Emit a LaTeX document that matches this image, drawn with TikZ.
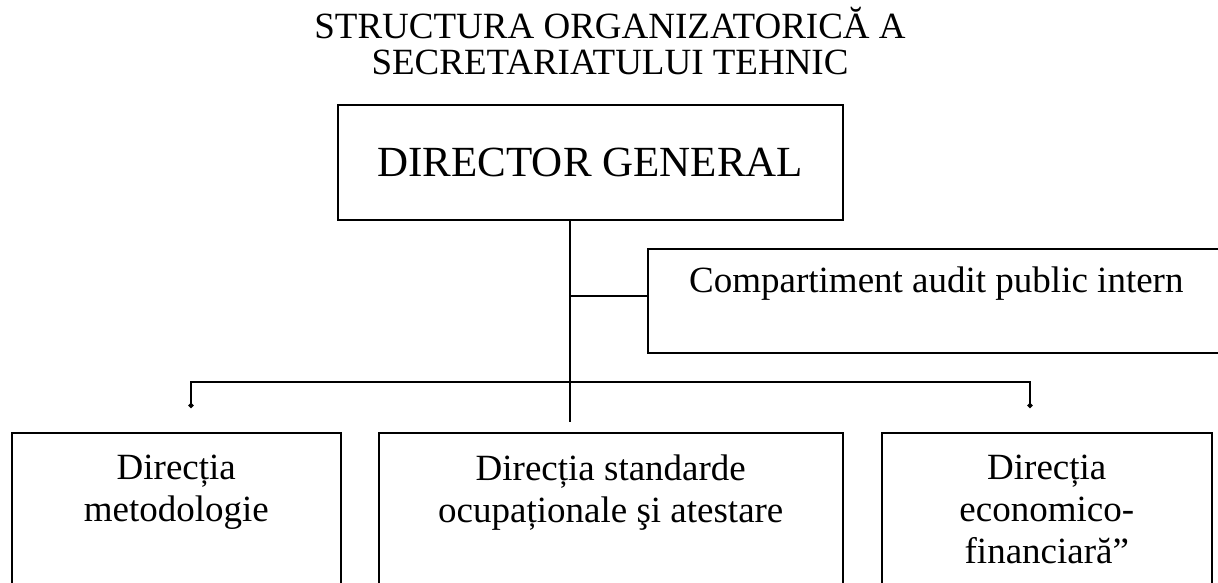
\documentclass[tikz,border=0pt]{standalone}
\usepackage{fontspec}
\setmainfont{Liberation Serif}
\usetikzlibrary{positioning,arrows.meta}

\tikzset{
  unitbox/.style={draw, line width=1.6pt, anchor=north west, inner sep=0pt},
  unittext/.style={anchor=north, align=center, inner sep=0pt,
                   font=\fontsize{37}{42}\selectfont},
  link/.style={line width=1.6pt},
  tickend/.style={link, {Circle[length=5pt]}-{Circle[length=5pt]}}
}

\begin{document}
\begin{tikzpicture}[x=1pt, y=-1pt]
  \useasboundingbox (0,0) rectangle (1218,582);
  \clip (0,0) rectangle (1218,582);

  \node[unittext, font=\fontsize{37}{36}\selectfont] (title) at (610,7)
        {STRUCTURA ORGANIZATORICĂ A\\SECRETARIATULUI TEHNIC};

  % director
  \node[unitbox, minimum width=505pt, minimum height=115pt,
        font=\fontsize{43}{43}\selectfont] (dir) at (337,104) {DIRECTOR GENERAL};

  % audit, open towards the right margin
  \node[unitbox, minimum width=620pt, minimum height=104pt] (audit) at (647,248) {};
  \node[anchor=base west, inner sep=0pt, font=\fontsize{37}{42}\selectfont]
        (auditText) at (689,292) {Compartiment audit public intern};

  % directions
  \node[unitbox, minimum width=329pt, minimum height=200pt] (met) at (11,432) {};
  \node[unitbox, minimum width=464pt, minimum height=200pt] (std) at (378,432) {};
  \node[unitbox, minimum width=330pt, minimum height=200pt] (eco) at (881,432) {};
  \node[unittext] (metText) at ([yshift=-23pt]met.north) {Direcția\\metodologie};
  \node[unittext] (stdText) at ([yshift=-23pt]std.north) {Direcția standarde\\ocupaționale şi atestare};
  \node[unittext] (ecoText) at ([yshift=-23pt]eco.north) {Direcția\\economico-\\financiară”};

  \coordinate (trunk) at (570,422);
  \coordinate (tickL) at (191,408);
  \coordinate (barR) at (1030,382);
  \coordinate (tickR) at (1030,408);

  \draw[link] (dir.south -| trunk) -- (trunk);
  \draw[link] (audit.west |- 0,296) -- (trunk |- 0,296);
  \draw[tickend] (tickL) |- (barR) -- (tickR);
\end{tikzpicture}
\end{document}
